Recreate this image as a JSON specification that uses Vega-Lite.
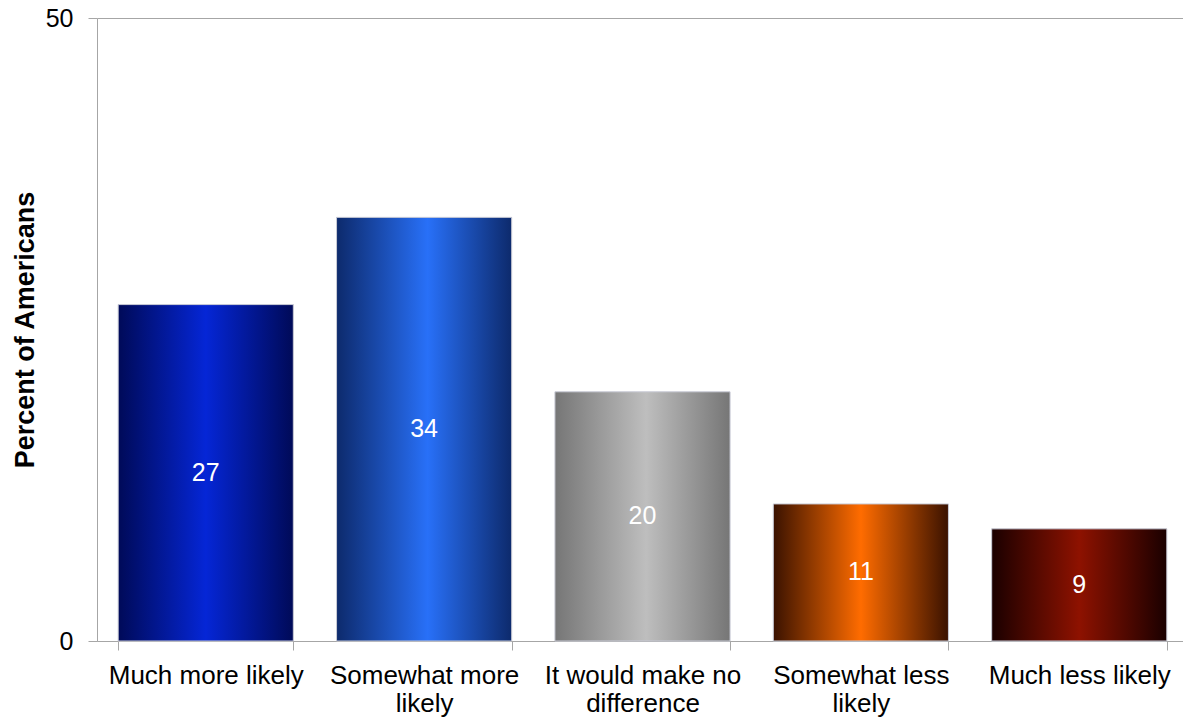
{
  "$schema": "https://vega.github.io/schema/vega-lite/v6.json",
  "width": 1086,
  "height": 623,
  "autosize": {"type": "none"},
  "padding": {"left": 97, "top": 18, "right": 0, "bottom": 78},
  "background": "white",
  "config": {
    "view": {"stroke": null},
    "font": "Liberation Sans"
  },
  "data": {
    "values": [
      {"answer": "Much more likely", "percent": 27},
      {"answer": "Somewhat more likely", "percent": 34},
      {"answer": "It would make no difference", "percent": 20},
      {"answer": "Somewhat less likely", "percent": 11},
      {"answer": "Much less likely", "percent": 9}
    ]
  },
  "encoding": {
    "x": {
      "field": "answer",
      "type": "nominal",
      "sort": null,
      "scale": {"range": [0, 1091], "paddingInner": 0.198, "paddingOuter": 0.097},
      "axis": {
        "title": null,
        "labelAngle": 0,
        "labelFontSize": 26,
        "labelColor": "#000000",
        "labelPadding": 12,
        "labelLineHeight": 28,
        "labelBaseline": "top",
        "labelExpr": "datum.value == 'Somewhat more likely' ? ['Somewhat more', 'likely'] : datum.value == 'It would make no difference' ? ['It would make no', 'difference'] : datum.value == 'Somewhat less likely' ? ['Somewhat less', 'likely'] : datum.value",
        "tickBand": "extent",
        "tickExtra": true,
        "tickSize": 9,
        "tickColor": "#a6a6a6",
        "domainColor": "#a6a6a6",
        "labelLimit": 400
      }
    }
  },
  "layer": [
    {
      "mark": {"type": "bar", "stroke": "#c9cbd6", "strokeWidth": 1},
      "encoding": {
        "y": {
          "field": "percent",
          "type": "quantitative",
          "scale": {"domain": [0, 50], "nice": false},
          "axis": {
            "values": [0, 50],
            "grid": true,
            "gridColor": "#a6a6a6",
            "domainColor": "#a6a6a6",
            "tickColor": "#a6a6a6",
            "tickSize": 9,
            "labelFontSize": 25,
            "labelColor": "#000000",
            "labelPadding": 15,
            "title": "Percent of Americans",
            "titleFontSize": 27,
            "titleFontWeight": "bold",
            "titleColor": "#000000",
            "titleAngle": 270,
            "titleX": -64,
            "titleY": 311.5,
            "titleAlign": "center",
            "titleBaseline": "alphabetic"
          }
        },
        "fill": {
          "condition": [
            {
              "test": "datum.answer == 'Much more likely'",
              "value": {"gradient": "linear", "x1": 0, "y1": 0, "x2": 1, "y2": 0,
                "stops": [
                  {"offset": 0, "color": "#000a58"},
                  {"offset": 0.5, "color": "#0526d6"},
                  {"offset": 1, "color": "#000a58"}
                ]}
            },
            {
              "test": "datum.answer == 'Somewhat more likely'",
              "value": {"gradient": "linear", "x1": 0, "y1": 0, "x2": 1, "y2": 0,
                "stops": [
                  {"offset": 0, "color": "#0d2a6c"},
                  {"offset": 0.52, "color": "#2870f8"},
                  {"offset": 1, "color": "#0d2a6c"}
                ]}
            },
            {
              "test": "datum.answer == 'It would make no difference'",
              "value": {"gradient": "linear", "x1": 0, "y1": 0, "x2": 1, "y2": 0,
                "stops": [
                  {"offset": 0, "color": "#767676"},
                  {"offset": 0.52, "color": "#bebebe"},
                  {"offset": 1, "color": "#767676"}
                ]}
            },
            {
              "test": "datum.answer == 'Somewhat less likely'",
              "value": {"gradient": "linear", "x1": 0, "y1": 0, "x2": 1, "y2": 0,
                "stops": [
                  {"offset": 0, "color": "#3a1200"},
                  {"offset": 0.5, "color": "#ff6c00"},
                  {"offset": 1, "color": "#3a1200"}
                ]}
            }
          ],
          "value": {"gradient": "linear", "x1": 0, "y1": 0, "x2": 1, "y2": 0,
            "stops": [
              {"offset": 0, "color": "#1a0000"},
              {"offset": 0.5, "color": "#8e1200"},
              {"offset": 1, "color": "#1a0000"}
            ]}
        }
      }
    },
    {
      "mark": {"type": "text", "color": "#ffffff", "fontSize": 25, "baseline": "middle", "align": "center"},
      "encoding": {
        "y": {
          "field": "percent",
          "type": "quantitative",
          "scale": {"domain": [0, 100], "nice": false},
          "axis": null
        },
        "text": {"field": "percent", "type": "quantitative"}
      }
    }
  ],
  "resolve": {"scale": {"y": "independent"}}
}
